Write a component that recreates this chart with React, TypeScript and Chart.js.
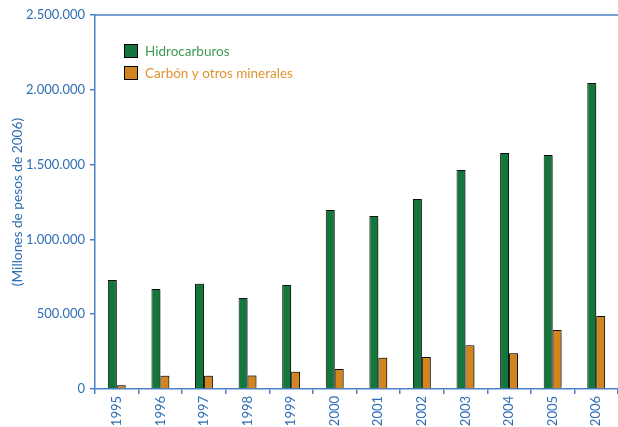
import React, { useEffect, useRef } from "react";
import { Chart, registerables } from "chart.js";

Chart.register(...registerables);

const categories = ["1995","1996","1997","1998","1999","2000","2001","2002","2003","2004","2005","2006"];
const hidrocarburos = [728000, 668000, 704000, 608000, 695000, 1197000, 1156000, 1270000, 1464000, 1578000, 1564000, 2045000];
const carbon = [25000, 89000, 89000, 91000, 116000, 134000, 209000, 214000, 292000, 239000, 394000, 488000];
const seriesNames = ["Hidrocarburos", "Carbón y otros minerales"];
const yTitle = "(Millones de pesos de 2006)";

const BLUE = "#2F6EB5";
const AXIS = "#4A80C4";
const GREEN = "#13763A";
const ORANGE = "#D2851D";
const FONT = "Lato, 'Open Sans', sans-serif";

function fmt(v: number) {
  return String(Math.round(v)).replace(/\B(?=(\d{3})+(?!\d))/g, ".");
}

export default function App() {
  const ref = useRef<HTMLCanvasElement | null>(null);
  useEffect(() => {
    if (!ref.current) return;
    const shadowPlugin = {
      id: "shadow",
      beforeDatasetsDraw(chart: any) {
        const ctx = chart.ctx;
        ctx.save();
        ctx.shadowColor = "rgba(0,0,0,0.35)";
        ctx.shadowOffsetX = 1.5;
        ctx.shadowOffsetY = -1;
        ctx.shadowBlur = 1;
      },
      afterDatasetsDraw(chart: any) {
        chart.ctx.restore();
      },
    };
    const decoPlugin = {
      id: "deco",
      afterDraw(chart: any) {
        const { ctx, chartArea } = chart;
        ctx.save();
        ctx.strokeStyle = AXIS;
        ctx.lineWidth = 1.5;
        ctx.beginPath();
        ctx.moveTo(chartArea.left, chartArea.top);
        ctx.lineTo(chart.width, chartArea.top);
        ctx.stroke();
        const items = [
          { label: seriesNames[0], fill: GREEN, text: "#3E9A57" },
          { label: seriesNames[1], fill: ORANGE, text: "#E0922F" },
        ];
        items.forEach((it, i) => {
          const x = 124;
          const y = 44 + i * 22;
          ctx.fillStyle = it.fill;
          ctx.fillRect(x, y, 14, 14);
          ctx.strokeStyle = "#000";
          ctx.lineWidth = 1;
          ctx.strokeRect(x + 0.5, y + 0.5, 13, 13);
          ctx.fillStyle = it.text;
          ctx.font = `13.5px ${FONT}`;
          ctx.textBaseline = "middle";
          ctx.textAlign = "left";
          ctx.fillText(it.label, 145, y + 7.5);
        });
        ctx.restore();
      },
    };
    const chart = new Chart(ref.current, {
      type: "bar",
      data: {
        labels: categories,
        datasets: [
          { label: seriesNames[0], data: hidrocarburos, backgroundColor: GREEN, borderColor: "#111", borderWidth: 1, categoryPercentage: 0.41, barPercentage: 1 },
          { label: seriesNames[1], data: carbon, backgroundColor: ORANGE, borderColor: "#111", borderWidth: 1, categoryPercentage: 0.41, barPercentage: 1 },
        ],
      },
      options: {
        animation: false,
        responsive: false,
        maintainAspectRatio: false,
        layout: { padding: { top: 15, right: 0, left: 0, bottom: 0 } },
        plugins: { legend: { display: false }, tooltip: { enabled: false } },
        scales: {
          x: {
            grid: { display: true, drawOnChartArea: false, drawTicks: true, tickLength: 5, color: AXIS, offset: true, lineWidth: 1.5 },
            border: { color: AXIS, width: 1.5 },
            ticks: { color: BLUE, font: { family: FONT, size: 13 }, minRotation: 90, maxRotation: 90, padding: 2, autoSkip: false },
            afterFit(scale: any) { scale.height = 38; },
          },
          y: {
            min: 0,
            max: 2500000,
            grid: { display: true, drawOnChartArea: false, drawTicks: true, tickLength: 5, color: AXIS, lineWidth: 1.5 },
            border: { color: AXIS, width: 1.5 },
            ticks: { stepSize: 500000, color: BLUE, font: { family: FONT, size: 13 }, padding: 5, callback: (v: any) => fmt(Number(v)) },
            title: { display: true, text: yTitle, color: BLUE, font: { family: FONT, size: 13.7 }, padding: { top: 9, bottom: 0 } },
            afterFit(scale: any) { scale.width = 95; },
          },
        },
      },
      plugins: [shadowPlugin, decoPlugin],
    });
    return () => chart.destroy();
  }, []);
  return (
    <div style={{ position: "absolute", left: 0, top: 0, width: 618, height: 427 }}>
      <canvas ref={ref} width={618} height={427} style={{ width: 618, height: 427 }} />
    </div>
  );
}
